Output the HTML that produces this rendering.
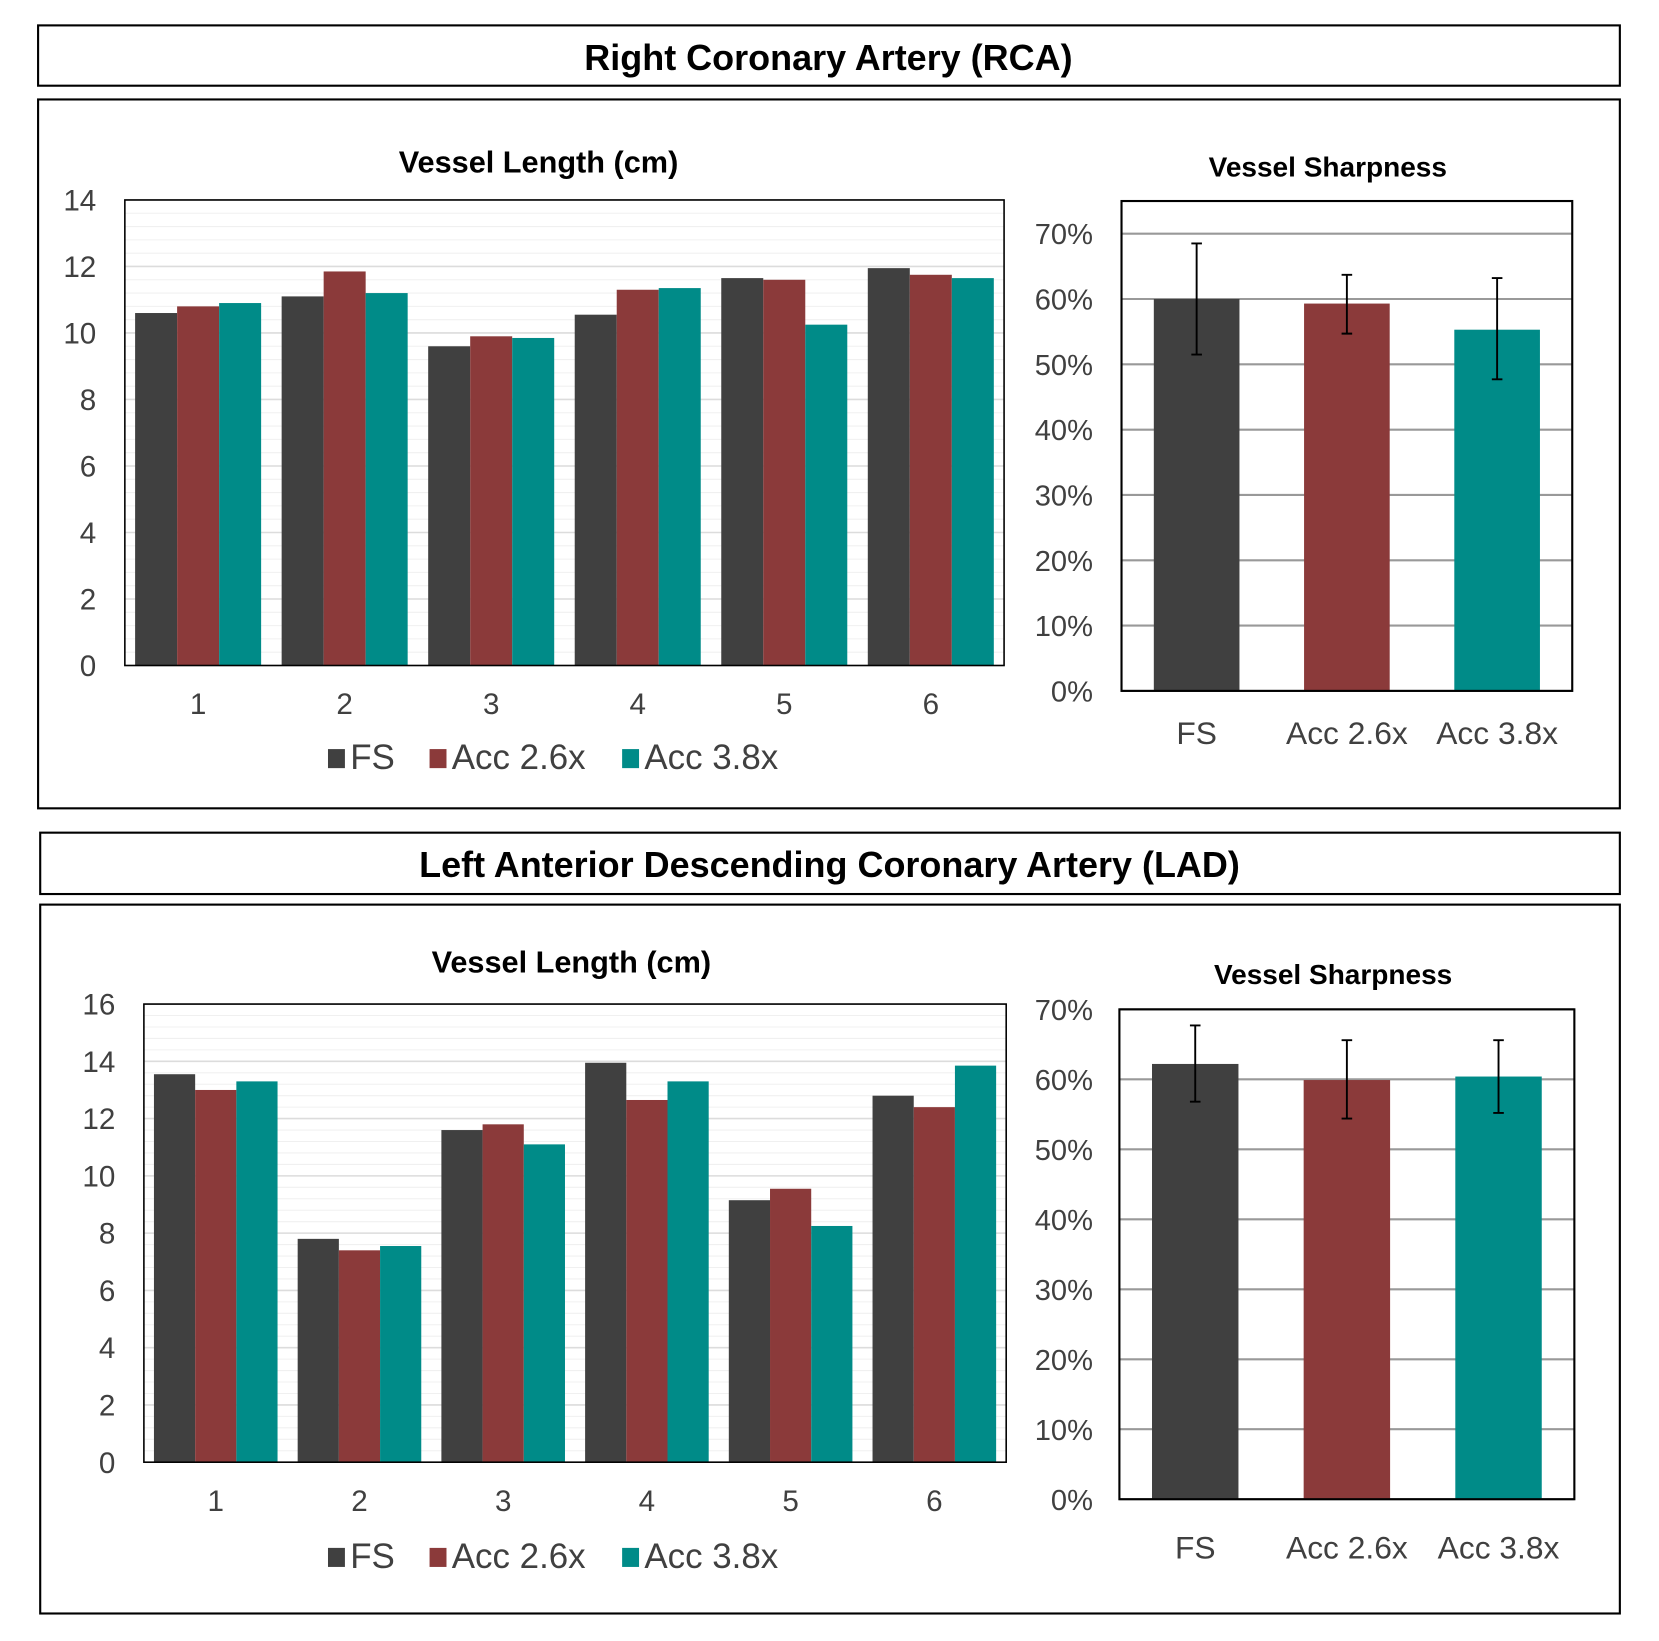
<!DOCTYPE html>
<html><head><meta charset="utf-8"><style>
html,body{margin:0;padding:0;background:#fff}
svg{display:block}
text{font-family:"Liberation Sans",sans-serif}
</style></head><body>
<svg id="s" width="1659" height="1641" viewBox="0 0 1568 1551" preserveAspectRatio="none" xmlns="http://www.w3.org/2000/svg">
<rect x="36" y="24" width="1495" height="57" fill="#fff" stroke="#000" stroke-width="2"/>
<text x="783" y="66" text-anchor="middle" font-size="34" font-weight="bold">Right Coronary Artery (RCA)</text>
<rect x="36" y="94" width="1495" height="670" fill="#fff" stroke="#000" stroke-width="2"/>
<rect x="38" y="787" width="1493" height="58" fill="#fff" stroke="#000" stroke-width="2"/>
<text x="784" y="829" text-anchor="middle" font-size="34" font-weight="bold">Left Anterior Descending Coronary Artery (LAD)</text>
<rect x="38" y="855" width="1493" height="670" fill="#fff" stroke="#000" stroke-width="2"/>
<g id="g"></g>
</svg>
<script>
const categories = ["1","2","3","4","5","6"];
const seriesNames = ["FS","Acc 2.6x","Acc 3.8x"];
const rcaFS = [10.6, 11.1, 9.6, 10.55, 11.65, 11.95];
const rcaAcc26 = [10.8, 11.85, 9.9, 11.3, 11.6, 11.75];
const rcaAcc38 = [10.9, 11.2, 9.85, 11.35, 10.25, 11.65];
const ladFS = [13.55, 7.8, 11.6, 13.95, 9.15, 12.8];
const ladAcc26 = [13.0, 7.4, 11.8, 12.65, 9.55, 12.4];
const ladAcc38 = [13.3, 7.55, 11.1, 13.3, 8.25, 13.85];
const rcaLenTicks = [0,2,4,6,8,10,12,14];
const ladLenTicks = [0,2,4,6,8,10,12,14,16];
const sharpCats = ["FS","Acc 2.6x","Acc 3.8x"];
const rcaSharp = [60.0, 59.3, 55.3];
const rcaSharpLo = [51.5, 54.7, 47.7];
const rcaSharpHi = [68.5, 63.7, 63.2];
const ladSharp = [62.2, 59.9, 60.4];
const ladSharpLo = [56.8, 54.4, 55.2];
const ladSharpHi = [67.7, 65.6, 65.6];
const sharpTicks = [0,10,20,30,40,50,60,70];
const colors = ["#404040","#8B3A3A","#008B88"];
const NS = "http://www.w3.org/2000/svg";
const G = document.getElementById("g");
function el(tag, attrs, parent){const e=document.createElementNS(NS,tag);for(const k in attrs)e.setAttribute(k,attrs[k]);(parent||G).appendChild(e);return e;}
function txt(s, attrs){const e=el("text",attrs);e.textContent=s;return e;}

function lengthChart(pref, L,R,T,B,max,ticks,data,title,tx,ty,catY,legY,labX){
  const y=v=>B-(v/max)*(B-T);
  const t=txt(title,{x:tx,y:ty,"text-anchor":"middle","font-size":29,"font-weight":"bold"});
  
  
  for(let v=0.4; v<max; v+=0.4){const l=el("line",{x1:L,x2:R,y1:y(v),y2:y(v),stroke:"#f0f0f0","stroke-width":1});
    
    }
  ticks.forEach(v=>{
    const l=el("line",{x1:L,x2:R,y1:y(v),y2:y(v),stroke:"#dcdcdc","stroke-width":1.5});
    
    
    const tt=txt(String(v),{x:labX,y:y(v)+10,"text-anchor":"end","font-size":28,fill:"#404040"});
    
    
  });
  const gw=(R-L)/categories.length, bw=gw*0.86/3;
  categories.forEach((c,i)=>{
    const x0=L+gw*i+gw*0.07;
    data.forEach((arr,s)=>{
      const b=el("rect",{x:x0+bw*s,y:y(arr[i]),width:bw,height:B-y(arr[i]),fill:colors[s]});
      
      
    });
    const ct=txt(c,{x:L+gw*(i+0.5),y:catY,"text-anchor":"middle","font-size":28,fill:"#404040"});
    
    
  });
  const fr=el("rect",{x:L,y:T,width:R-L,height:B-T,fill:"none",stroke:"#000","stroke-width":1.5});
  
  
  const lx=[310,406,588];
  seriesNames.forEach((n,s)=>{
    const sq=el("rect",{x:lx[s],y:legY-18,width:16,height:18,fill:colors[s]});
    
    
    const lt=txt(n,{x:lx[s]+21,y:legY+1,"font-size":33,fill:"#404040"});
    
    
  });
}

function sharpChart(pref,L,R,T,B,max,vals,lo,hi,title,tx,ty,catY){
  const y=v=>B-(v/max)*(B-T);
  const t=txt(title,{x:tx,y:ty,"text-anchor":"middle","font-size":26.5,"font-weight":"bold"});
  
  
  sharpTicks.forEach(v=>{
    const l=el("line",{x1:L,x2:R,y1:y(v),y2:y(v),stroke:"#999","stroke-width":2});
    
    
    const tt=txt(v+"%",{x:1033,y:y(v)+10,"text-anchor":"end","font-size":27.5,fill:"#404040"});
    
    
  });
  const cw=(R-L)/3, bw=cw*0.57;
  sharpCats.forEach((c,i)=>{
    const cx=L+cw*(i+0.5);
    const b=el("rect",{x:cx-bw/2,y:y(vals[i]),width:bw,height:B-y(vals[i]),fill:colors[i]});
    
    
    const e=el("path",{d:`M${cx} ${y(lo[i])}V${y(hi[i])}M${cx-5} ${y(lo[i])}H${cx+5}M${cx-5} ${y(hi[i])}H${cx+5}`,stroke:"#000","stroke-width":1.8,fill:"none"});
    
    
    const ct=txt(c,{x:cx,y:catY,"text-anchor":"middle","font-size":30,fill:"#404040"});
    
    
  });
  const fr=el("rect",{x:L,y:T,width:R-L,height:B-T,fill:"none",stroke:"#000","stroke-width":2});
  
  
}

lengthChart("rca",118,949,189,629,14,rcaLenTicks,[rcaFS,rcaAcc26,rcaAcc38],"Vessel Length (cm)",509,163,675,726,91);
lengthChart("lad",136,951,949,1382,16,ladLenTicks,[ladFS,ladAcc26,ladAcc38],"Vessel Length (cm)",540,919,1428,1481,109);
sharpChart("rca",1060,1486,190,653,75,rcaSharp,rcaSharpLo,rcaSharpHi,"Vessel Sharpness",1255,167,703);
sharpChart("lad",1058,1488,954,1417,70,ladSharp,ladSharpLo,ladSharpHi,"Vessel Sharpness",1260,930,1473);
</script>
</body></html>
